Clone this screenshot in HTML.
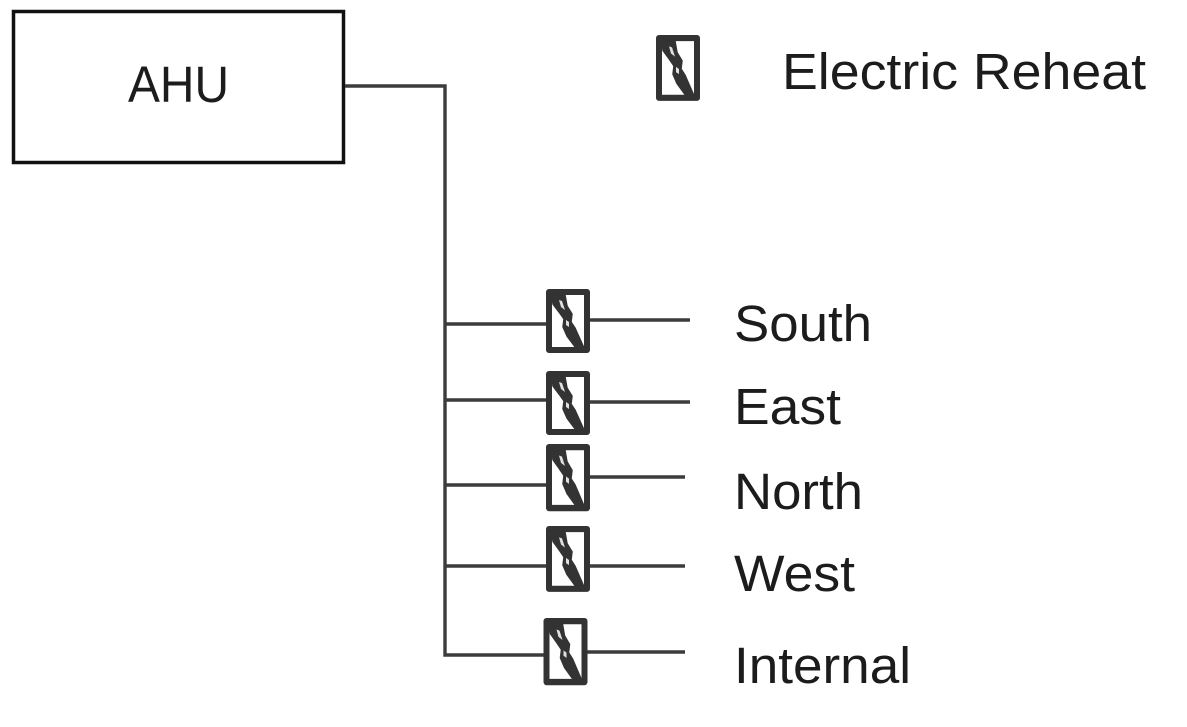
<!DOCTYPE html>
<html>
<head>
<meta charset="utf-8">
<style>
html,body{margin:0;padding:0;background:#fff;width:1187px;height:727px;overflow:hidden}
svg{display:block}
text{font-family:"Liberation Sans",sans-serif;fill:#1c1c1c;font-size:51px}
.l{stroke:#3c3c3c;stroke-width:3.4;fill:none}
.b{fill:#fff;stroke:#333;stroke-width:6;stroke-linejoin:round}
.z{fill:#333;stroke:#333;stroke-width:1.5;stroke-linejoin:round}
.h{fill:#fff;opacity:.85}
</style>
</head>
<body>
<svg width="1187" height="727" viewBox="0 0 1187 727" xmlns="http://www.w3.org/2000/svg">
<rect x="13.500" y="11.500" width="330" height="151" fill="#fff" stroke="#111" stroke-width="3.500"/>
<text x="128" y="102" textLength="101" lengthAdjust="spacingAndGlyphs">AHU</text>
<path class="l" d="M345 86H445V655H545"/>
<path class="l" d="M445 324H546M445 400H546M445 485H546M445 566H546"/>
<path class="l" d="M590 320H690M590 402H690M590 477H685M590 566H685M587 652H685"/>

<g transform="translate(656,35) scale(1,1.03)"><rect class="b" x="3" y="3" width="38" height="58"/><path class="z" d="M6 6H19L21 17L26 25L25 33L29 39L38 59H30L21 47L17 38L18 30L13 23L7 15Z"/><path class="h" d="M13 11L16 12L19 21L15 18Z"/><path class="h" d="M20 31L23 33L23 38L20 36Z"/></g>
<g transform="translate(546,289)"><rect class="b" x="3" y="3" width="38" height="58"/><path class="z" d="M6 6H19L21 17L26 25L25 33L29 39L38 59H30L21 47L17 38L18 30L13 23L7 15Z"/><path class="h" d="M13 11L16 12L19 21L15 18Z"/><path class="h" d="M20 31L23 33L23 38L20 36Z"/></g>
<g transform="translate(546,371)"><rect class="b" x="3" y="3" width="38" height="58"/><path class="z" d="M6 6H19L21 17L26 25L25 33L29 39L38 59H30L21 47L17 38L18 30L13 23L7 15Z"/><path class="h" d="M13 11L16 12L19 21L15 18Z"/><path class="h" d="M20 31L23 33L23 38L20 36Z"/></g>
<g transform="translate(546,444) scale(1,1.05)"><rect class="b" x="3" y="3" width="38" height="58"/><path class="z" d="M6 6H19L21 17L26 25L25 33L29 39L38 59H30L21 47L17 38L18 30L13 23L7 15Z"/><path class="h" d="M13 11L16 12L19 21L15 18Z"/><path class="h" d="M20 31L23 33L23 38L20 36Z"/></g>
<g transform="translate(546,526) scale(1,1.03)"><rect class="b" x="3" y="3" width="38" height="58"/><path class="z" d="M6 6H19L21 17L26 25L25 33L29 39L38 59H30L21 47L17 38L18 30L13 23L7 15Z"/><path class="h" d="M13 11L16 12L19 21L15 18Z"/><path class="h" d="M20 31L23 33L23 38L20 36Z"/></g>
<g transform="translate(543.500,618) scale(1,1.05)"><rect class="b" x="3" y="3" width="38" height="58"/><path class="z" d="M6 6H19L21 17L26 25L25 33L29 39L38 59H30L21 47L17 38L18 30L13 23L7 15Z"/><path class="h" d="M13 11L16 12L19 21L15 18Z"/><path class="h" d="M20 31L23 33L23 38L20 36Z"/></g>

<text x="782" y="89" textLength="364" lengthAdjust="spacingAndGlyphs">Electric Reheat</text>
<text x="734" y="341" textLength="138" lengthAdjust="spacingAndGlyphs">South</text>
<text x="734" y="424" textLength="107" lengthAdjust="spacingAndGlyphs">East</text>
<text x="734" y="509" textLength="129" lengthAdjust="spacingAndGlyphs">North</text>
<text x="734" y="591" textLength="121" lengthAdjust="spacingAndGlyphs">West</text>
<text x="734" y="683" textLength="177" lengthAdjust="spacingAndGlyphs">Internal</text>
</svg>
</body>
</html>
